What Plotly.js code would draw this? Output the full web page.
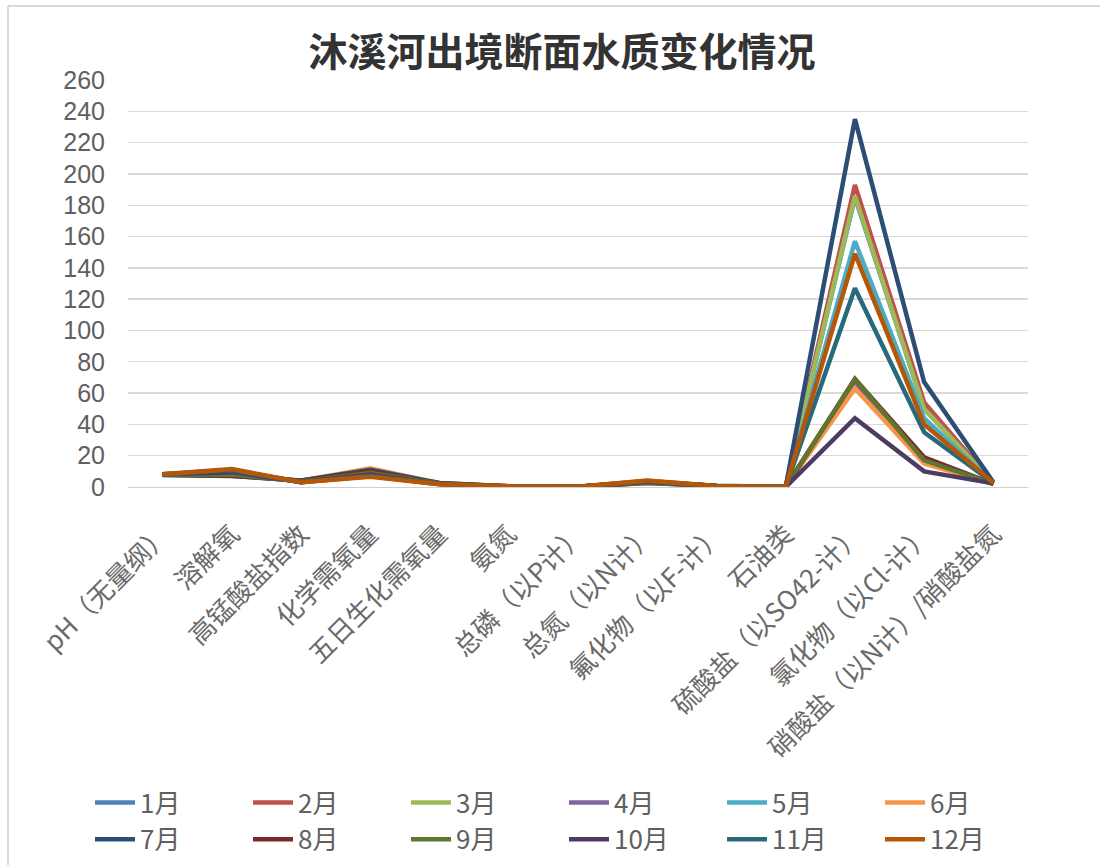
<!DOCTYPE html>
<html>
<head>
<meta charset="utf-8">
<script src="https://cdn.plot.ly/plotly-3.0.1.min.js"></script>
<style>html,body{margin:0;padding:0;background:#fff;}#chart{width:1100px;height:865px;}</style>
</head>
<body>
<div id="chart"></div>
<script>
const categories = ["pH（无量纲）","溶解氧","高锰酸盐指数","化学需氧量","五日生化需氧量","氨氮","总磷（以P计）","总氮（以N计）","氟化物（以F-计）","石油类","硫酸盐（以SO42-计）","氯化物（以Cl-计）","硝酸盐（以N计）/硝酸盐氮"];
const months = ["1月","2月","3月","4月","5月","6月","7月","8月","9月","10月","11月","12月"];
const m01 = [8.1, 10.5, 3.2, 8, 2.0, 0.4, 0.12, 3.5, 0.6, 0.01, 185, 50, 2.5];
const m02 = [8.0, 11, 3.0, 7, 1.8, 0.3, 0.1, 3.2, 0.6, 0.01, 193, 54, 2.6];
const m03 = [8.2, 10, 3.5, 9, 2.2, 0.5, 0.13, 3.8, 0.7, 0.01, 186, 50, 2.4];
const m04 = [8.0, 9, 3.4, 8, 2.1, 0.4, 0.12, 3.3, 0.6, 0.01, 66, 18, 2];
const m05 = [7.9, 8.5, 3.8, 10, 2.4, 0.5, 0.15, 3.0, 0.7, 0.01, 157, 44, 2.2];
const m06 = [7.8, 7.5, 4, 12, 2.5, 0.4, 0.14, 2.8, 0.7, 0.01, 63, 15, 1.8];
const m07 = [7.7, 7, 4.2, 11, 2.6, 0.35, 0.13, 3.0, 0.8, 0.01, 235, 67, 3];
const m08 = [7.8, 7.2, 4.0, 10, 2.3, 0.3, 0.12, 2.6, 0.7, 0.01, 69, 19, 2];
const m09 = [7.9, 8, 3.6, 9, 2.2, 0.3, 0.11, 2.7, 0.6, 0.01, 69, 17, 2.1];
const m10 = [8.0, 9.5, 3.2, 8, 2.0, 0.35, 0.1, 3.4, 0.6, 0.01, 44, 10, 2.3];
const m11 = [8.1, 10.8, 3.0, 7, 1.9, 0.4, 0.11, 3.9, 0.6, 0.01, 127, 35, 2.6];
const m12 = [8.2, 11.5, 3.1, 6.5, 1.8, 0.45, 0.12, 4.2, 0.6, 0.01, 149, 40, 2.8];
const yTicks = [0,20,40,60,80,100,120,140,160,180,200,220,240,260];

const series = [m01,m02,m03,m04,m05,m06,m07,m08,m09,m10,m11,m12];
const colors = ["#4F81BD","#C0504D","#9BBB59","#8064A2","#4BACC6","#F79646","#2C4D75","#772C2A","#5F7530","#4D3B62","#276A7C","#B65708"];

const traces = series.map((vals, i) => ({
  type: "scatter",
  mode: "lines",
  name: months[i],
  x: categories,
  y: vals,
  line: {color: colors[i], width: 4.5},
  hoverinfo: "x+y+name"
}));

const font = "'Noto Sans CJK SC', 'Noto Sans', sans-serif";
const L = 128, R = 72, T = 80, B = 378;
const pw = 1100 - L - R, ph = 865 - T - B;
const px = v => (v - L) / pw;
const py = v => (865 - B - v) / ph;

const layout = {
  width: 1100,
  height: 865,
  paper_bgcolor: "#ffffff",
  plot_bgcolor: "#ffffff",
  margin: {l: L, r: R, t: T, b: B, autoexpand: false},
  title: {text: "沐溪河出境断面水质变化情况", x: 0.511, xanchor: "center", y: 0.94, yanchor: "middle",
          font: {family: font, size: 39, color: "#333333", weight: "bold"}},
  xaxis: {
    type: "category",
    range: [-0.5, 12.5],
    tickangle: -45,
    tickfont: {family: font, size: 26, color: "#6a6a6a"},
    showgrid: false,
    showline: false,
    zeroline: false,
    ticks: "",
    ticklabelstandoff: 26,
    automargin: false
  },
  yaxis: {
    range: [0, 260],
    tickvals: yTicks,
    ticktext: yTicks.map(String),
    tickfont: {family: "'Liberation Sans', Arial, sans-serif", size: 25, color: "#606060"},
    gridcolor: "#d9d9d9",
    gridwidth: 1.3,
    zeroline: true,
    zerolinecolor: "#d0d0d0",
    showline: false,
    ticks: "",
    ticklabelstandoff: 22,
    automargin: false
  },
  shapes: [
    {type: "line", xref: "paper", yref: "paper", x0: px(8), x1: px(1100), y0: py(6), y1: py(6), line: {color: "#d9d9d9", width: 2}},
    {type: "line", xref: "paper", yref: "paper", x0: px(8), x1: px(8), y0: py(6), y1: py(865), line: {color: "#d9d9d9", width: 2}}
  ],
  showlegend: true,
  legend: {
    orientation: "h",
    x: px(90),
    xanchor: "left",
    y: py(779),
    yanchor: "top",
    entrywidth: 103,
    entrywidthmode: "pixels",
    itemwidth: 40,
    font: {family: font, size: 26, color: "#606060"},
    tracegroupgap: 0,
    bgcolor: "rgba(0,0,0,0)"
  }
};

Plotly.newPlot("chart", traces, layout, {staticPlot: true, displayModeBar: false});
</script>
</body>
</html>
